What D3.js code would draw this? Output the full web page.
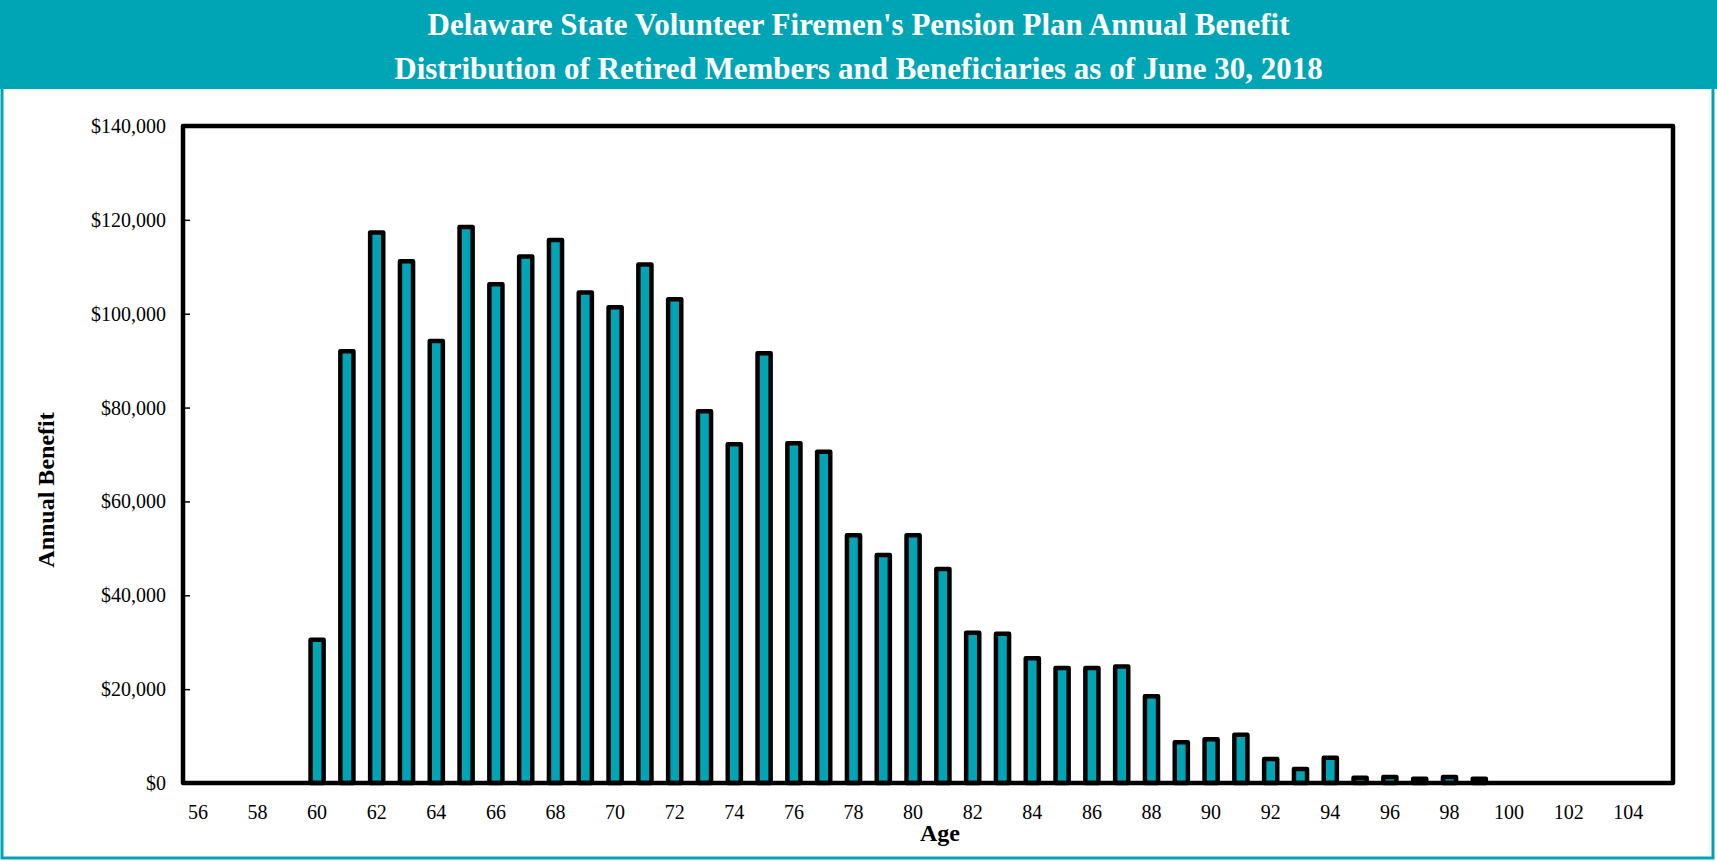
<!DOCTYPE html>
<html>
<head>
<meta charset="utf-8">
<script src="https://cdn.jsdelivr.net/npm/d3@7"></script>
<style>
  body { margin: 0; background: #fff; }
  text { font-family: "Liberation Serif", "Times New Roman", serif; }
</style>
</head>
<body>
<script>
var width = 1717,
    height = 861;

// ages shown on the x axis (one band per year)
var ages = d3.range(56, 106);
// annual benefit by age
var benefit = [0, 0, 0, 0,
  30500, 92000, 117300, 111200, 94200, 118500, 106300, 112200, 115700, 104500,
  101400, 110500, 103100, 79200, 72200, 91600, 72400, 70600, 52800, 48600,
  52800, 45600, 32000, 31800, 26600, 24500, 24500, 24800, 18500, 8700,
  9300, 10300, 5100, 3000, 5400, 1100, 1300, 900, 1300, 900,
  0, 0, 0, 0, 0, 0];
var yTicks = [0, 20000, 40000, 60000, 80000, 100000, 120000, 140000];
var title1 = "Delaware State Volunteer Firemen's Pension Plan Annual Benefit",
    title2 = "Distribution of Retired Members and Beneficiaries as of June 30, 2018";

var teal = "#00a5b5";

var data = ages.map(function(a, i){ return {age: a, value: benefit[i]}; });

var svg = d3.select("body").append("svg")
  .attr("width", width)
  .attr("height", height);

// outer frame
svg.append("rect")
  .attr("x", 2).attr("y", 2)
  .attr("width", width - 6).attr("height", height - 5)
  .attr("fill", "white")
  .attr("stroke", teal)
  .attr("stroke-width", 3);

// title band
svg.append("rect")
  .attr("x", 0).attr("y", 0)
  .attr("width", width).attr("height", 89)
  .attr("fill", teal);

svg.append("text")
  .attr("x", width / 2).attr("y", 35)
  .attr("text-anchor", "middle")
  .style("font-size", "31px").style("font-weight", "bold")
  .style("fill", "white")
  .text(title1);

svg.append("text")
  .attr("x", width / 2).attr("y", 79)
  .attr("text-anchor", "middle")
  .style("font-size", "31px").style("font-weight", "bold")
  .style("fill", "white")
  .text(title2);

var plotLeft = 183, plotRight = 1673, plotTop = 126, plotBottom = 783;

var x = d3.scaleBand()
  .domain(ages)
  .range([plotLeft, plotRight])
  .paddingInner(0.56)
  .paddingOuter(0.28);

var y = d3.scaleLinear()
  .domain([0, 140000])
  .range([plotBottom, plotTop]);

// bars
svg.selectAll("rect.bar")
  .data(data.filter(function(d){ return d.value > 0; }))
  .enter().append("rect")
    .attr("class", "bar")
    .attr("x", function(d){ return x(d.age); })
    .attr("y", function(d){ return y(d.value); })
    .attr("width", x.bandwidth())
    .attr("height", function(d){ return y(0) - y(d.value); })
    .attr("fill", teal)
    .attr("stroke", "black")
    .attr("stroke-width", 4.5)
    .attr("stroke-linejoin", "round");

// y axis ticks (inside the box)
var yAxis = svg.append("g")
  .attr("transform", "translate(" + plotLeft + ",0)")
  .call(d3.axisRight(y).tickValues(yTicks).tickSize(7).tickFormat(function(d){ return ""; }));
yAxis.select(".domain").remove();
yAxis.selectAll("line").attr("stroke", "black").attr("stroke-width", 1.5);

svg.selectAll("text.ylab")
  .data(yTicks)
  .enter().append("text")
    .attr("class", "ylab")
    .attr("x", 166)
    .attr("y", function(d){ return y(d) + 7; })
    .attr("text-anchor", "end")
    .style("font-size", "20px")
    .text(function(d){ return "$" + d3.format(",")(d); });

// x axis labels (every other age)
var xAxis = svg.append("g")
  .attr("transform", "translate(0," + plotBottom + ")")
  .call(d3.axisBottom(x).tickValues(ages.filter(function(a){ return a % 2 == 0; })).tickSize(0).tickPadding(22));
xAxis.select(".domain").remove();
xAxis.selectAll("text")
  .style("font-family", "Liberation Serif")
  .style("font-size", "20px")
  .attr("fill", "black");

// plot border
svg.append("rect")
  .attr("x", plotLeft).attr("y", plotTop)
  .attr("width", plotRight - plotLeft).attr("height", plotBottom - plotTop)
  .attr("fill", "none")
  .attr("stroke", "black")
  .attr("stroke-width", 4.5)
  .attr("stroke-linejoin", "round");

// axis titles
svg.append("text")
  .attr("transform", "translate(54,490) rotate(-90)")
  .attr("text-anchor", "middle")
  .style("font-size", "24px").style("font-weight", "bold")
  .text("Annual Benefit");

svg.append("text")
  .attr("x", 940).attr("y", 841)
  .attr("text-anchor", "middle")
  .style("font-size", "24px").style("font-weight", "bold")
  .text("Age");
</script>
</body>
</html>
